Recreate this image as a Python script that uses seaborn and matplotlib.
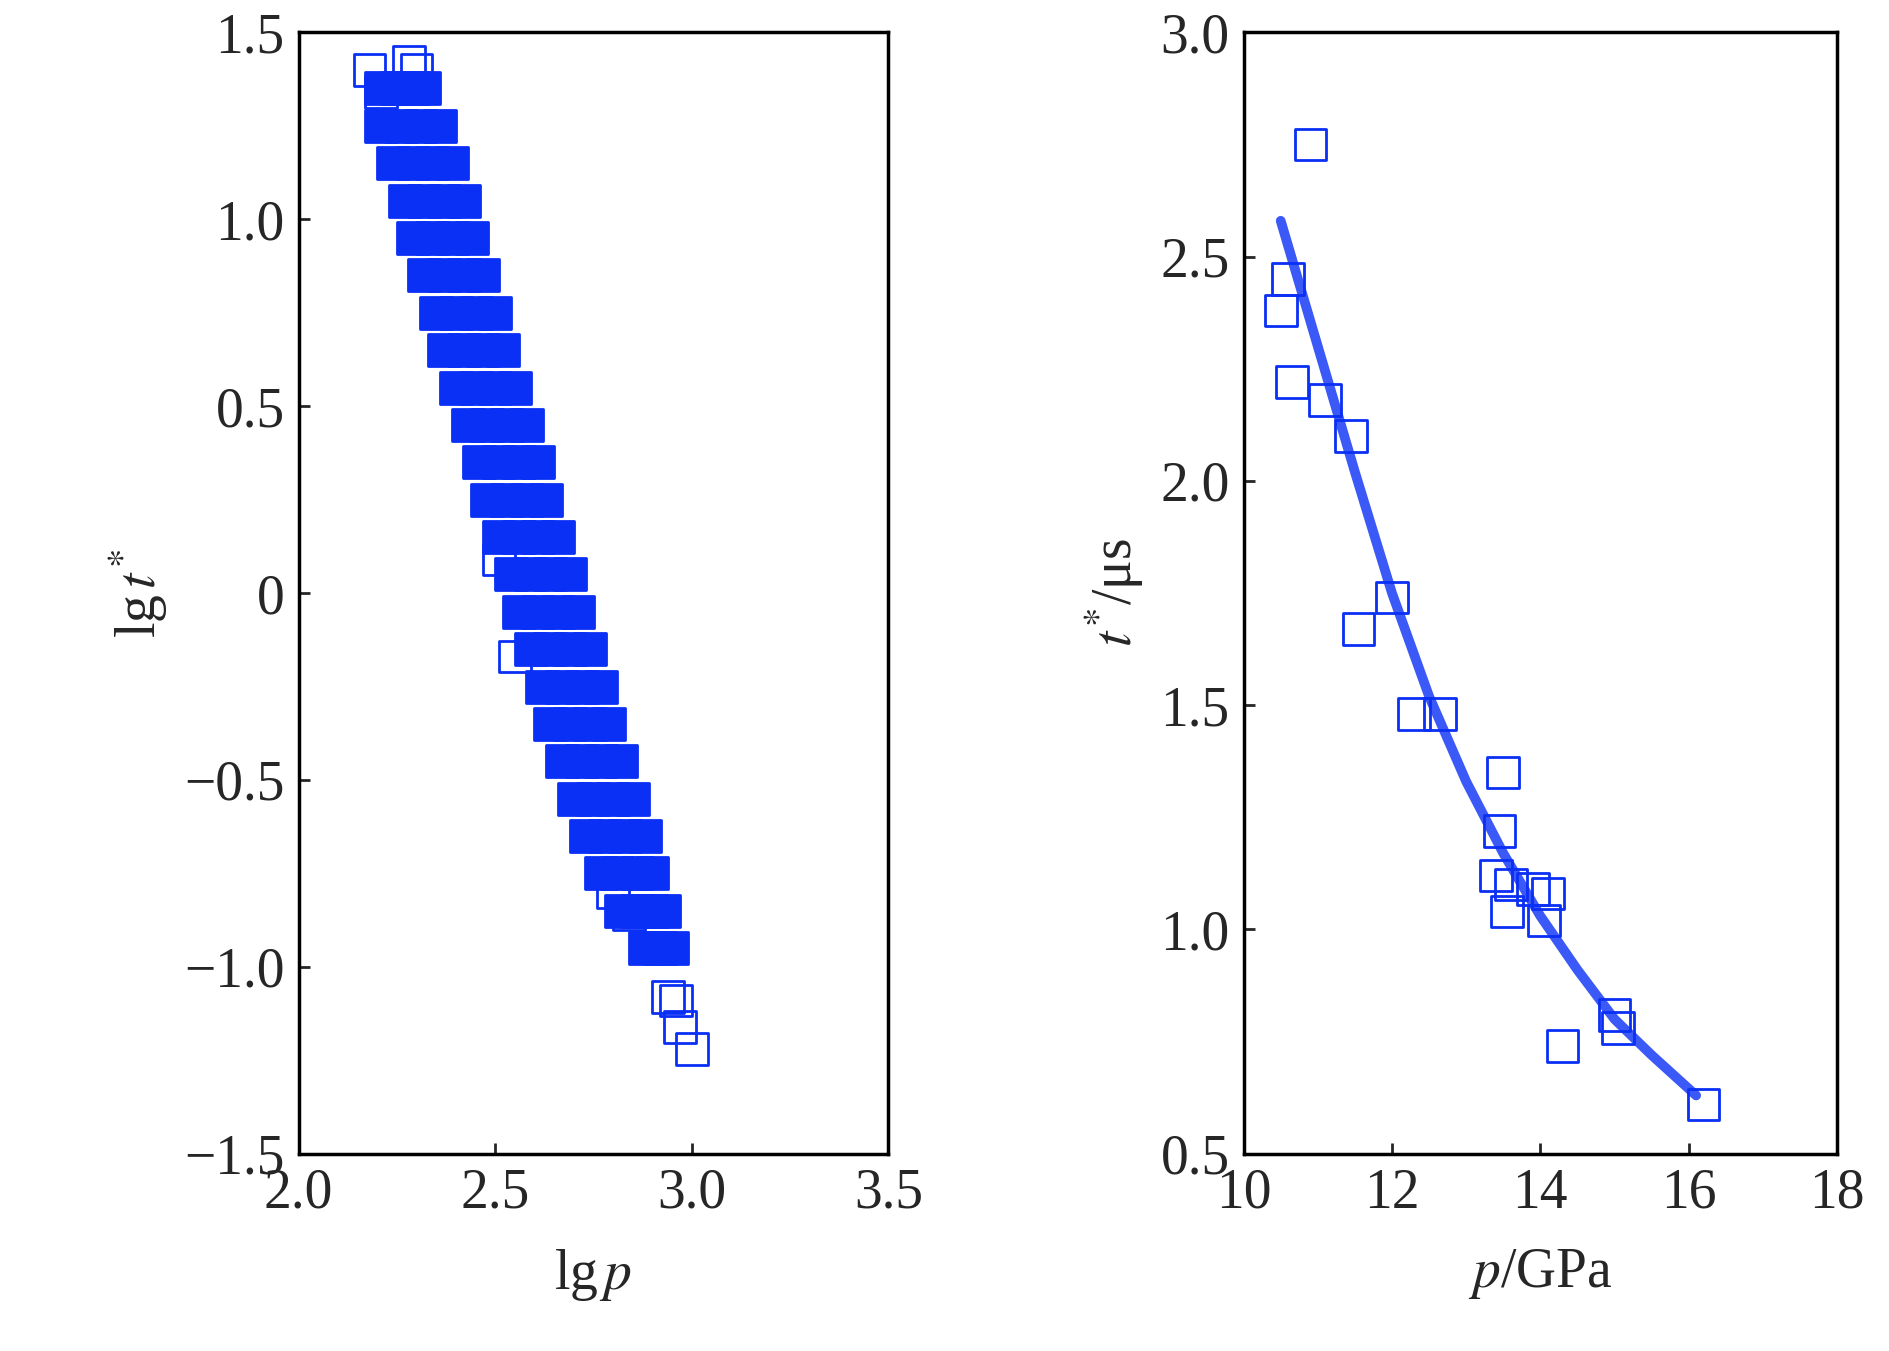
import matplotlib
matplotlib.use("Agg")
import matplotlib.pyplot as plt
import seaborn as sns
import pandas as pd

sns.set_style("white")
plt.rcParams['font.family'] = ['Liberation Serif', 'DejaVu Serif']
plt.rcParams['mathtext.fontset'] = 'stix'

# Left panel: lg p vs lg t* (dense band, read level by level)
lg_t_levels = [1.35, 1.25, 1.15, 1.05, 0.95, 0.85, 0.75, 0.65, 0.55, 0.45, 0.35, 0.25,
               0.15, 0.05, -0.05, -0.15, -0.25, -0.35, -0.45, -0.55, -0.65, -0.75, -0.85, -0.95]
lg_p_rows = [
    [2.21, 2.25, 2.29, 2.32], [2.21, 2.26, 2.31, 2.36], [2.24, 2.29, 2.34, 2.39],
    [2.27, 2.32, 2.37, 2.42], [2.29, 2.34, 2.39, 2.44], [2.32, 2.37, 2.42, 2.47],
    [2.35, 2.40, 2.45, 2.50], [2.37, 2.42, 2.47, 2.52], [2.40, 2.45, 2.50, 2.55],
    [2.43, 2.48, 2.53, 2.58], [2.46, 2.51, 2.56, 2.61], [2.48, 2.53, 2.58, 2.63],
    [2.51, 2.56, 2.61, 2.66], [2.54, 2.59, 2.64, 2.69], [2.56, 2.61, 2.66, 2.71],
    [2.59, 2.64, 2.69, 2.74], [2.62, 2.67, 2.72, 2.77], [2.64, 2.69, 2.74, 2.79],
    [2.67, 2.72, 2.77, 2.82], [2.70, 2.75, 2.80, 2.85], [2.73, 2.78, 2.83, 2.88],
    [2.77, 2.81, 2.86, 2.90], [2.82, 2.86, 2.90, 2.93], [2.88, 2.92, 2.95],
]
extra_lg_p = [2.18, 2.28, 2.30, 2.21, 2.51, 2.55, 2.80, 2.84, 2.94, 2.96, 2.97, 3.00]
extra_lg_t = [1.40, 1.42, 1.40, 1.34, 0.09, -0.17, -0.80, -0.86, -1.08, -1.09, -1.16, -1.22]

# Right panel: p vs t*
p_pts = [10.5, 10.6, 10.65, 10.9, 11.1, 11.45, 11.55, 12.0, 12.3, 12.65, 13.5, 13.45,
         13.4, 13.55, 13.9, 14.1, 14.05, 13.6, 14.3, 15.0, 15.05, 16.2]
t_pts = [2.38, 2.45, 2.22, 2.75, 2.18, 2.10, 1.67, 1.74, 1.48, 1.48, 1.35, 1.22,
         1.12, 1.04, 1.09, 1.08, 1.02, 1.10, 0.74, 0.81, 0.78, 0.61]
p_fit = [10.5, 10.75, 11.0, 11.5, 12.0, 12.5, 13.0, 13.5, 14.0, 14.5, 15.0, 15.5, 16.1]
t_fit = [2.58, 2.44, 2.30, 2.02, 1.75, 1.52, 1.33, 1.17, 1.03, 0.91, 0.80, 0.72, 0.63]

xs, ys = [], []
for yv, row in zip(lg_t_levels, lg_p_rows):
    for xv in row:
        xs.append(xv); ys.append(yv)
band_df = pd.DataFrame({"lgp": xs, "lgt": ys})
extra_df = pd.DataFrame({"lgp": extra_lg_p, "lgt": extra_lg_t})
right_df = pd.DataFrame({"p": p_pts, "t": t_pts})
fit_df = pd.DataFrame({"p": p_fit, "t": t_fit})

blue = "#0a2ff5"
fs = 40
fig = plt.figure(figsize=(18.9, 13.51), dpi=100)
ax1 = fig.add_axes([0.158, 0.146, 0.312, 0.83])
ax2 = fig.add_axes([0.658, 0.146, 0.314, 0.83])

sns.scatterplot(data=band_df, x="lgp", y="lgt", ax=ax1, marker="s", s=560,
                color=blue, edgecolor=blue, linewidth=2)
sns.scatterplot(data=extra_df, x="lgp", y="lgt", ax=ax1, marker="s", s=520,
                facecolor="none", edgecolor=blue, linewidth=2)
ax1.set_xlim(2.0, 3.5); ax1.set_ylim(-1.5, 1.5)
ax1.set_xticks([2.0, 2.5, 3.0, 3.5])
ax1.set_yticks([-1.5, -1.0, -0.5, 0, 0.5, 1.0, 1.5])
ax1.set_yticklabels(["\u22121.5", "\u22121.0", "\u22120.5", "0", "0.5", "1.0", "1.5"])
ax1.set_xlabel(r"lg$\,p$", fontsize=fs, labelpad=20)
ax1.set_ylabel(r"lg$\,t^{*}$", fontsize=fs, labelpad=10)

sns.lineplot(data=fit_df, x="p", y="t", ax=ax2, color=blue, linewidth=7, alpha=0.8)
sns.scatterplot(data=right_df, x="p", y="t", ax=ax2, marker="s", s=520,
                facecolor="none", edgecolor=blue, linewidth=2, zorder=3)
ax2.set_xlim(10, 18); ax2.set_ylim(0.5, 3.0)
ax2.set_xticks([10, 12, 14, 16, 18])
ax2.set_yticks([0.5, 1.0, 1.5, 2.0, 2.5, 3.0])
ax2.set_xlabel(r"$p$/GPa", fontsize=fs, labelpad=20)
ax2.set_ylabel(r"$t^{*}$/μs", fontsize=fs, labelpad=10)

for ax in (ax1, ax2):
    ax.tick_params(direction="in", length=8, width=2, labelsize=fs, pad=10,
                   bottom=True, left=True)
    for s in ax.spines.values():
        s.set_linewidth(2.5); s.set_color("black")

fig.savefig("out.png", dpi=100)
